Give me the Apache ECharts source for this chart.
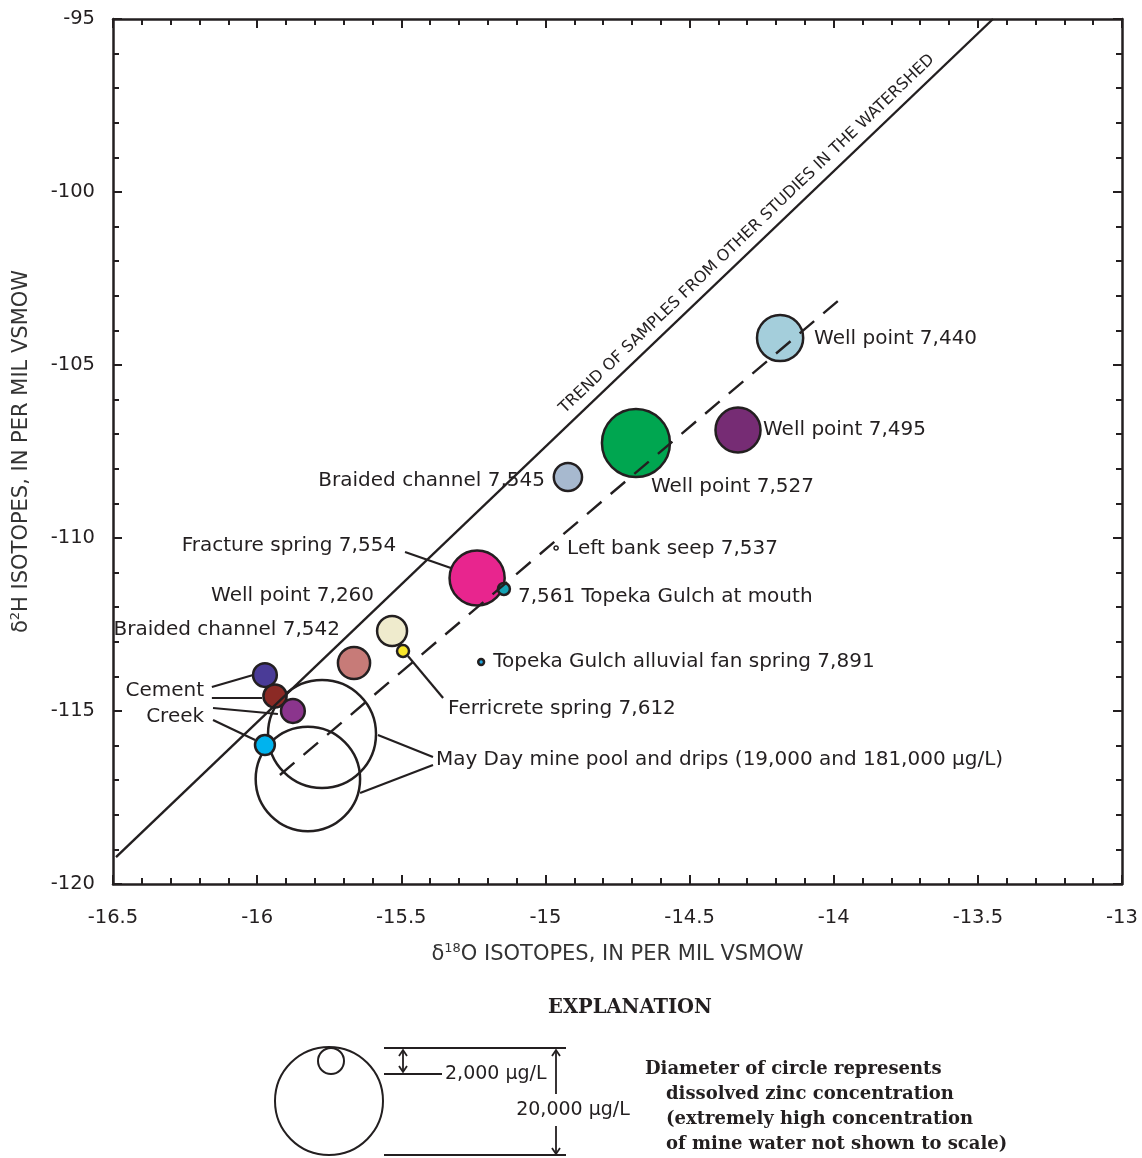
<!DOCTYPE html>
<html><head><meta charset="utf-8">
<script src="https://cdn.jsdelivr.net/npm/echarts@6/dist/echarts.min.js"></script>
<style>html,body{margin:0;padding:0;background:#fff}#c{width:1142px;height:1158px}</style>
</head><body><div id="c"></div>
<script>
// ---------- DATA ----------
const sampleNames = ['May Day mine pool','May Day mine drips','Well point 7,440','Well point 7,495','Well point 7,527',
  'Braided channel 7,545','Left bank seep 7,537','Fracture spring 7,554','7,561 Topeka Gulch at mouth','Well point 7,260',
  'Ferricrete spring 7,612','Braided channel 7,542','Topeka Gulch alluvial fan spring 7,891',
  'Cement Creek 1','Cement Creek 2','Cement Creek 3','Cement Creek 4'];
const d18O = [-15.775,-15.824,-14.186,-14.332,-14.686,-14.922,-14.963,-15.237,-15.144,-15.532,-15.494,-15.664,-15.223,-15.973,-15.938,-15.876,-15.973];
const d2H  = [-115.665,-116.965,-104.22,-106.879,-107.254,-108.237,-110.289,-111.156,-111.474,-112.688,-113.266,-113.613,-113.584,-113.96,-114.566,-115.0,-115.983];
const zincUgL = [181000,19000,8600,8400,12500,5400,1100,10200,2500,5700,2500,6100,1400,4600,4500,4600,3900];

const xTicks = [-16.5,-16,-15.5,-15,-14.5,-14,-13.5,-13];
const yTicks = [-120,-115,-110,-105,-100,-95];

const trendO = [-16.4896, -13.4475];
const trendH = [-119.22, -95];
const localO = [-15.921, -13.957];
const localH = [-116.85, -102.948];

// leader lines [[o1,h1],[o2,h2]]
const leaders = [
  [[-15.487,-110.405],[-15.328,-110.867]],
  [[-15.477,-113.41],[-15.355,-114.624]],
  [[-16.157,-114.306],[-16.014,-113.96]],
  [[-16.157,-114.624],[-15.983,-114.624]],
  [[-16.153,-114.913],[-15.928,-115.087]],
  [[-16.153,-115.26],[-16.007,-115.838]],
  [[-15.39,-116.329],[-15.581,-115.694]],
  [[-15.39,-116.561],[-15.643,-117.37]]
];
const noteTexts = ['Cement','Creek','May Day mine pool and drips (19,000 and 181,000 \u00b5g/L)','TREND OF SAMPLES FROM OTHER STUDIES IN THE WATERSHED'];
const noteO = [-16.184,-16.184,-15.380,-14.301];
const noteH = [-114.422,-115.173,-116.416,-101.214];

const legendLabels = ['2,000 \u00b5g/L','20,000 \u00b5g/L'];
const explanation = ['Diameter of circle represents','dissolved zinc concentration','(extremely high concentration','of mine water not shown to scale)'];

// ---------- STYLE ----------
const FONT = 'DejaVu Sans';
const INK = '#231f20';
const fills = ['rgba(255,255,255,0)','rgba(255,255,255,0)','#a4cedb','#762c74','#00a650','#a7b9cf','#ffffff','#e8258e','#14a3b5',
  '#efebcd','#f7e52b','#c77b78','#1fa6de','#4a3b97','#8b2a25','#8b358d','#00b3ee'];
const place = {
  'Well point 7,440': ['left', 34, 1],
  'Well point 7,495': ['left', 25, 0],
  'Well point 7,527': ['left', 15, 44],
  'Braided channel 7,545': ['right', -23, 4],
  'Left bank seep 7,537': ['left', 11, 1],
  'Fracture spring 7,554': ['right', -81, -32],
  '7,561 Topeka Gulch at mouth': ['left', 14, 8],
  'Well point 7,260': ['right', -18, -35],
  'Ferricrete spring 7,612': ['left', 45, 58],
  'Braided channel 7,542': ['right', -14, -33],
  'Topeka Gulch alluvial fan spring 7,891': ['left', 12, 0]
};
const notePlace = [['right',0,0,0,20],['right',0,0,0,20],['left',0,0,0,20],['center',0,0,43.7,16]];

const samples = sampleNames.map((n, i) => {
  const p = place[n];
  return {
    name: n,
    value: [d18O[i], d2H[i], zincUgL[i]],
    itemStyle: { color: fills[i], opacity: 1, borderColor: INK, borderWidth: i === 6 ? 1.5 : 2.5 },
    label: p ? { show: true, formatter: n, position: 'inside', align: p[0], verticalAlign: 'middle',
      offset: [p[1], p[2]], color: INK, fontFamily: FONT, fontSize: 20, textBorderWidth: 0, opacity: 1 } : { show: false }
  };
});
const notes = noteTexts.map((t, i) => ({
  value: [noteO[i], noteH[i]],
  label: { show: true, formatter: t, position: 'inside', align: notePlace[i][0], verticalAlign: 'middle',
    rotate: notePlace[i][3], color: INK, fontFamily: FONT, fontSize: notePlace[i][4], textBorderWidth: 0, opacity: 1 }
}));

function axisBase(pos, showLabel) {
  return {
    type: 'value', position: pos,
    axisLine: { show: true, onZero: false, lineStyle: { color: INK, width: 2.5 } },
    axisTick: { show: true, inside: true, length: 9, lineStyle: { color: INK, width: 2 } },
    minorTick: { show: true, splitNumber: 5, length: 6, lineStyle: { color: INK, width: 2 } },
    splitLine: { show: false }, minorSplitLine: { show: false },
    axisLabel: { show: showLabel, color: INK, fontFamily: FONT, fontSize: 19.5 }
  };
}
const nameStyle = {
  color: '#333', fontFamily: FONT, fontSize: 21,
  rich: {
    g: { color: '#333', fontFamily: FONT, fontSize: 21, lineHeight: 26 },
    s: { color: '#333', fontFamily: FONT, fontSize: 13, lineHeight: 15, verticalAlign: 'top' }
  }
};

const xB = Object.assign(axisBase('bottom', true), {
  min: xTicks[0], max: xTicks[xTicks.length - 1], interval: xTicks[1] - xTicks[0],
  name: '{g|\u03b4}{s|18}{g|O ISOTOPES, IN PER MIL VSMOW}', nameLocation: 'middle', nameGap: 58, nameTextStyle: nameStyle
});
xB.axisLabel.margin = 24;
const xT = Object.assign(axisBase('top', false), {
  min: xTicks[0], max: xTicks[xTicks.length - 1], interval: xTicks[1] - xTicks[0]
});
const yL = Object.assign(axisBase('left', true), {
  min: yTicks[0], max: yTicks[yTicks.length - 1], interval: yTicks[1] - yTicks[0],
  name: '{g|\u03b4}{s|2}{g|H ISOTOPES, IN PER MIL VSMOW}', nameLocation: 'middle', nameGap: 78, nameTextStyle: nameStyle
});
yL.axisLabel.margin = 18;
const yR = Object.assign(axisBase('right', false), {
  min: yTicks[0], max: yTicks[yTicks.length - 1], interval: yTicks[1] - yTicks[0]
});

const chart = echarts.init(document.getElementById('c'));
const g = [];
// explanation graphics
g.push({ type: 'text', style: { text: 'EXPLANATION', x: 630, y: 1008, textAlign: 'center', textVerticalAlign: 'middle', font: 'bold 19.5px "DejaVu Serif"', fill: INK } });
g.push({ type: 'circle', shape: { cx: 329, cy: 1101, r: 54 }, style: { fill: 'none', stroke: INK, lineWidth: 2 } });
g.push({ type: 'circle', shape: { cx: 331, cy: 1061, r: 13 }, style: { fill: 'none', stroke: INK, lineWidth: 2 } });
[[384,1048,566,1048],[384,1074,442,1074],[384,1155,566,1155],[403,1051,403,1071],[556,1050,556,1094],[556,1126,556,1153]].forEach(s => {
  g.push({ type: 'line', shape: { x1: s[0], y1: s[1], x2: s[2], y2: s[3] }, style: { stroke: INK, lineWidth: 1.8 } });
});
[[[399,1056],[403,1050],[407,1056]],[[399,1066],[403,1072],[407,1066]],[[552,1056],[556,1050],[560,1056]],[[552,1148],[556,1154],[560,1148]]].forEach(p => {
  g.push({ type: 'polyline', shape: { points: p }, style: { stroke: INK, lineWidth: 1.8, fill: 'none' } });
});
g.push({ type: 'text', style: { text: legendLabels[0], x: 445, y: 1074, textAlign: 'left', textVerticalAlign: 'middle', font: '19px "DejaVu Sans"', fill: INK } });
g.push({ type: 'text', style: { text: legendLabels[1], x: 573, y: 1110, textAlign: 'center', textVerticalAlign: 'middle', font: '19px "DejaVu Sans"', fill: INK } });
explanation.forEach((t, i) => {
  g.push({ type: 'text', style: { text: t, x: i === 0 ? 645 : 666, y: 1069 + i * 25, textAlign: 'left', textVerticalAlign: 'middle', font: 'bold 18px "DejaVu Serif"', fill: INK } });
});

chart.setOption({
  animation: false,
  backgroundColor: '#fff',
  grid: { left: 113, top: 19, width: 1009, height: 865, containLabel: false },
  xAxis: [xB, xT],
  yAxis: [yL, yR],
  series: [
    { type: 'scatter', name: 'samples', xAxisIndex: 0, yAxisIndex: 0, z: 2,
      symbolSize: v => Math.max(Math.min(v[2] * 0.0056, 110) - 2, 4),
      itemStyle: { opacity: 1 },
      data: samples, emphasis: { disabled: true } },
    { type: 'line', name: 'trend', data: trendO.map((o, i) => [o, trendH[i]]), symbol: 'none', z: 4,
      lineStyle: { color: INK, width: 2.4 }, silent: true },
    { type: 'line', name: 'local', data: localO.map((o, i) => [o, localH[i]]), symbol: 'none', z: 4,
      lineStyle: { color: INK, width: 2.4, type: [19, 12] }, silent: true },
    { type: 'lines', coordinateSystem: 'cartesian2d', z: 4, silent: true,
      lineStyle: { color: INK, width: 2.2, opacity: 1, curveness: 0 },
      data: leaders.map(c => ({ coords: c })) },
    { type: 'scatter', name: 'notes', symbolSize: 1, z: 5, silent: true,
      itemStyle: { color: 'rgba(0,0,0,0)', opacity: 1 }, data: notes }
  ],
  graphic: g
});
</script>
</body></html>
